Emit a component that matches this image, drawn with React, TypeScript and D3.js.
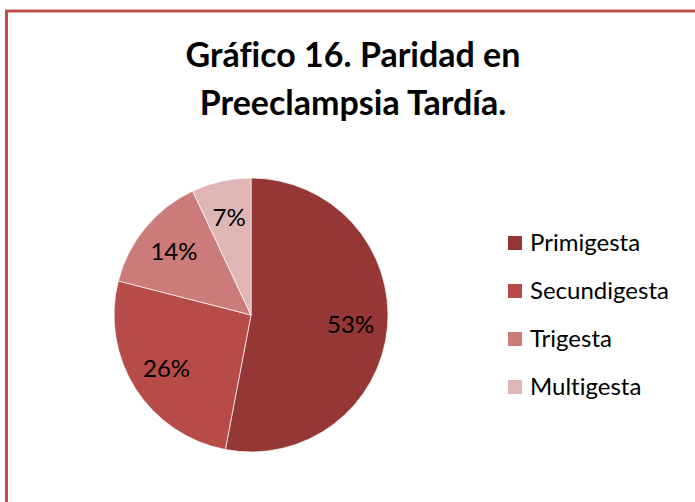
import React, { useEffect, useRef } from 'react'
import * as d3 from 'd3'

const categories = ['Primigesta', 'Secundigesta', 'Trigesta', 'Multigesta']
const values = [53, 26, 14, 7]
const colors = ['#953735', '#B64B48', '#CB7B79', '#DFB6B5']
const titleLines = ['Gráfico 16. Paridad en', 'Preeclampsia Tardía.']

const width = 695
const height = 502
const font = 'Lato, "Open Sans", sans-serif'

export default function App() {
  const ref = useRef<SVGSVGElement>(null)

  useEffect(() => {
    document.body.style.margin = '0'
    const svg = d3.select(ref.current)
    svg.selectAll('*').remove()
    svg.style('font-variant-ligatures', 'none')

    svg.append('rect')
      .attr('width', width)
      .attr('height', height)
      .attr('fill', '#fff')

    // chart area border, only the left and top edges are in frame
    svg.append('rect')
      .attr('x', 6.5)
      .attr('y', 11)
      .attr('width', 900)
      .attr('height', 700)
      .attr('fill', 'none')
      .attr('stroke', '#C0504D')
      .attr('stroke-width', 3)

    svg.append('text')
      .attr('x', 353)
      .attr('y', 67)
      .attr('text-anchor', 'middle')
      .style('font-family', font)
      .style('font-weight', 700)
      .style('font-size', '34px')
      .selectAll('tspan')
      .data(titleLines)
      .enter()
      .append('tspan')
      .attr('x', 353)
      .attr('dy', (d, i) => (i === 0 ? 0 : 48))
      .text(d => d)

    const radius = 137
    const cx = 251
    const cy = 315

    const pie = d3.pie<number>().sort(null).value(d => d)
    const arcs = pie(values)
    const arc = d3.arc<d3.PieArcDatum<number>>().innerRadius(0).outerRadius(radius)
    const labelArc = d3.arc<d3.PieArcDatum<number>>()
      .innerRadius(radius * 0.73)
      .outerRadius(radius * 0.73)

    const g = svg.append('g').attr('transform', `translate(${cx}, ${cy})`)

    g.selectAll('path')
      .data(arcs)
      .enter()
      .append('path')
      .attr('d', arc)
      .attr('fill', (d, i) => colors[i])
      .attr('stroke', '#fff')
      .attr('stroke-width', 0.7)

    g.selectAll('text')
      .data(arcs)
      .enter()
      .append('text')
      .attr('transform', d => `translate(${labelArc.centroid(d)})`)
      .attr('text-anchor', 'middle')
      .attr('dy', '0.35em')
      .style('font-family', font)
      .style('font-size', '24px')
      .attr('fill', '#000')
      .text(d => `${d.data}%`)

    // legend
    const y = d3.scalePoint<string>()
      .domain(categories)
      .range([243, 387])

    const legend = svg.append('g')
      .selectAll('g')
      .data(categories)
      .enter()
      .append('g')
      .attr('transform', d => `translate(508, ${y(d)})`)

    legend.append('rect')
      .attr('x', 0)
      .attr('y', -7)
      .attr('width', 14)
      .attr('height', 14)
      .attr('fill', (d, i) => colors[i])

    legend.append('text')
      .attr('x', 22)
      .attr('dy', '0.35em')
      .style('font-family', font)
      .style('font-size', '24px')
      .attr('fill', '#000')
      .text(d => d)
  }, [])

  return <svg ref={ref} width={width} height={height} style={{ display: 'block' }} />
}
